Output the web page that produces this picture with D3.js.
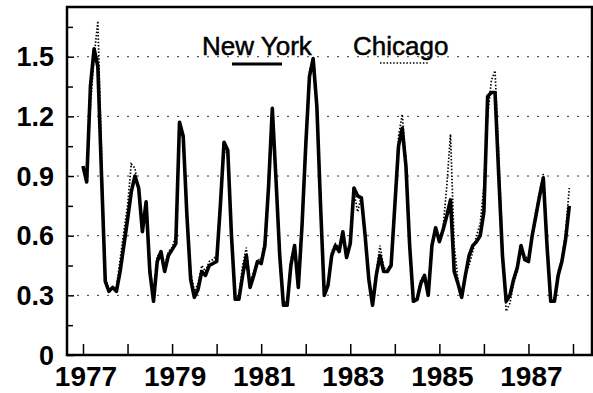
<!DOCTYPE html>
<html><head><meta charset="utf-8">
<script src="https://cdn.jsdelivr.net/npm/d3@7"></script>
<style>
html,body{margin:0;padding:0;background:#fff;}
svg{display:block;font-family:"Liberation Sans",Arial,Helvetica,sans-serif;}
</style></head>
<body>
<svg id="chart" width="593" height="393"></svg>
<script>
// ---- data (monthly, Jan 1977 – Dec 1987) ----
const startYear = 1977;
const seriesNames = ["New York", "Chicago"];
const newYork = [
  0.95, 0.87, 1.35, 1.54, 1.45, 0.90, 0.37, 0.32, 0.34, 0.32, 0.42, 0.55,
  0.68, 0.82, 0.90, 0.84, 0.62, 0.77, 0.42, 0.27, 0.47, 0.52, 0.42, 0.50,
  0.53, 0.56, 1.17, 1.10, 0.70, 0.38, 0.29, 0.33, 0.42, 0.40, 0.45, 0.46,
  0.47, 0.75, 1.07, 1.03, 0.60, 0.28, 0.28, 0.40, 0.50, 0.34, 0.40, 0.47,
  0.46, 0.55, 0.85, 1.24, 0.88, 0.50, 0.25, 0.25, 0.45, 0.55, 0.34, 0.65,
  1.05, 1.40, 1.49, 1.25, 0.75, 0.30, 0.35, 0.50, 0.55, 0.52, 0.62, 0.49,
  0.56, 0.84, 0.80, 0.79, 0.60, 0.38, 0.25, 0.40, 0.50, 0.42, 0.42, 0.45,
  0.75, 1.05, 1.14, 0.95, 0.55, 0.27, 0.28, 0.36, 0.40, 0.30, 0.55, 0.64,
  0.57, 0.63, 0.70, 0.78, 0.42, 0.36, 0.29, 0.40, 0.50, 0.55, 0.57, 0.60,
  0.72, 1.30, 1.32, 1.32, 0.90, 0.50, 0.27, 0.30, 0.38, 0.44, 0.55, 0.48,
  0.47, 0.60, 0.70, 0.80, 0.89, 0.55, 0.27, 0.27, 0.40, 0.47, 0.58, 0.75
];
const chicago = [
  0.95, 0.88, 1.25, 1.50, 1.68, 1.00, 0.40, 0.32, 0.33, 0.34, 0.48, 0.62,
  0.75, 0.96, 0.94, 0.82, 0.66, 0.72, 0.45, 0.30, 0.50, 0.50, 0.45, 0.52,
  0.54, 0.60, 1.15, 1.08, 0.72, 0.42, 0.32, 0.36, 0.45, 0.42, 0.47, 0.48,
  0.50, 0.78, 1.05, 1.00, 0.58, 0.28, 0.30, 0.45, 0.54, 0.36, 0.42, 0.48,
  0.48, 0.58, 0.88, 1.22, 0.90, 0.50, 0.26, 0.27, 0.48, 0.55, 0.38, 0.68,
  1.10, 1.42, 1.50, 1.25, 0.76, 0.31, 0.36, 0.52, 0.56, 0.54, 0.62, 0.50,
  0.58, 0.82, 0.72, 0.80, 0.58, 0.40, 0.26, 0.42, 0.55, 0.44, 0.43, 0.46,
  0.78, 1.10, 1.21, 0.98, 0.55, 0.28, 0.29, 0.38, 0.40, 0.31, 0.56, 0.62,
  0.58, 0.64, 0.85, 1.11, 0.55, 0.38, 0.30, 0.40, 0.45, 0.52, 0.60, 0.66,
  0.85, 1.20, 1.38, 1.43, 1.00, 0.55, 0.22, 0.26, 0.36, 0.42, 0.55, 0.50,
  0.48, 0.60, 0.72, 0.82, 0.91, 0.58, 0.28, 0.27, 0.42, 0.48, 0.62, 0.84
];
const xTickYears = [1977,1978,1979,1980,1981,1982,1983,1984,1985,1986,1987,1988];
const xLabelYears = [1977,1979,1981,1983,1985,1987];
const yMajorTicks = [0, 0.3, 0.6, 0.9, 1.2, 1.5];
const yMinorTicks = [0.15, 0.45, 0.75, 1.05, 1.35, 1.65];

// ---- layout ----
const svg = d3.select("#chart");
const mLeft = 67, mRight = 592, mTop = 7, mBottom = 355;
const x = d3.scaleLinear().domain([1976.641, 1988.4265]).range([mLeft, mRight]);
const y = d3.scaleLinear().domain([0, 1.75]).range([mBottom, mTop]);

const toPts = arr => arr.map((v, i) => ({t: startYear + i / 12, v}));

// gridlines
svg.append("g").selectAll("line").data(yMajorTicks.filter(d => d > 0)).join("line")
  .attr("x1", mLeft).attr("x2", mRight)
  .attr("y1", d => y(d)).attr("y2", d => y(d))
  .attr("stroke", "#333").attr("stroke-width", 1)
  .attr("stroke-dasharray", "2,8");

// axes (ticks inward)
const xAxis = d3.axisTop(x).tickValues(xTickYears).tickSize(11).tickFormat("");
svg.append("g").attr("transform", `translate(0,${mBottom})`).call(xAxis)
  .call(g => g.select(".domain").remove())
  .call(g => g.selectAll(".tick line").attr("stroke", "#000").attr("stroke-width", 1.5));

const yAxisMajor = d3.axisRight(y).tickValues(yMajorTicks).tickSize(7).tickFormat("");
svg.append("g").attr("transform", `translate(${mLeft},0)`).call(yAxisMajor)
  .call(g => g.select(".domain").remove())
  .call(g => g.selectAll(".tick line").attr("stroke", "#000").attr("stroke-width", 1.5));
const yAxisMinor = d3.axisRight(y).tickValues(yMinorTicks).tickSize(6).tickFormat("");
svg.append("g").attr("transform", `translate(${mLeft},0)`).call(yAxisMinor)
  .call(g => g.select(".domain").remove())
  .call(g => g.selectAll(".tick line").attr("stroke", "#000").attr("stroke-width", 1.5));

// tick labels
svg.append("g").selectAll("text").data(yMajorTicks).join("text")
  .attr("x", 54).attr("y", d => y(d) + 9.5)
  .attr("text-anchor", "end")
  .attr("font-size", 27).attr("font-weight", "bold")
  .text(d => d === 0 ? "0" : d3.format(".1f")(d));
svg.append("g").selectAll("text").data(xLabelYears).join("text")
  .attr("x", d => x(d) + 3).attr("y", 386)
  .attr("text-anchor", "middle")
  .attr("font-size", 28).attr("font-weight", "bold")
  .text(d => d);

// lines
const line = d3.line().x(d => x(d.t)).y(d => y(d.v));
svg.append("path").datum(toPts(chicago))
  .attr("fill", "none").attr("stroke", "#000").attr("stroke-width", 1.7)
  .attr("stroke-dasharray", "1.5,1.8").attr("d", line);
svg.append("path").datum(toPts(newYork))
  .attr("fill", "none").attr("stroke", "#000").attr("stroke-width", 3.6)
  .attr("stroke-linejoin", "round").attr("d", line);

// frame
svg.append("rect").attr("x", mLeft).attr("y", mTop)
  .attr("width", mRight - mLeft).attr("height", mBottom - mTop)
  .attr("fill", "none").attr("stroke", "#000").attr("stroke-width", 2.5);

// legend
const legend = svg.append("g");
legend.append("text").attr("x", 202).attr("y", 55).attr("font-size", 26)
  .attr("stroke", "#000").attr("stroke-width", 0.5).text(seriesNames[0]);
legend.append("line").attr("x1", 232).attr("x2", 282).attr("y1", 64).attr("y2", 64)
  .attr("stroke", "#000").attr("stroke-width", 3.2);
legend.append("text").attr("x", 353).attr("y", 55).attr("font-size", 26)
  .attr("stroke", "#000").attr("stroke-width", 0.5).text(seriesNames[1]);
legend.append("line").attr("x1", 380).attr("x2", 428).attr("y1", 63).attr("y2", 63)
  .attr("stroke", "#000").attr("stroke-width", 1.7).attr("stroke-dasharray", "1.5,1.8");
</script>
</body></html>
